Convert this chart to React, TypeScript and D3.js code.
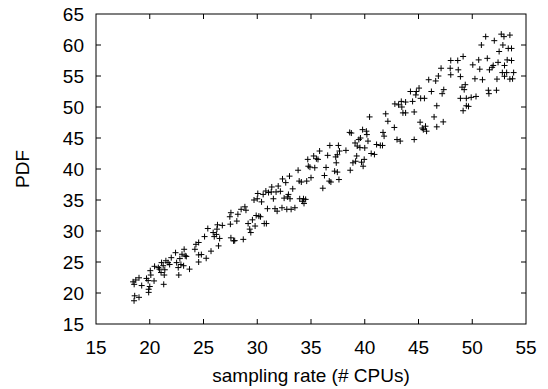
import React from "react";
import * as d3 from "d3";

const xTicks = [15, 20, 25, 30, 35, 40, 45, 50, 55];
const yTicks = [15, 20, 25, 30, 35, 40, 45, 50, 55, 60, 65];
const xTitle = "sampling rate (# CPUs)";
const yTitle = "PDF";

const xs = [
  18.54, 18.6, 19.0, 18.45, 18.7, 18.55, 19.0, 19.25, 19.7, 19.85, 19.9, 19.9, 20.0, 20.05, 20.1, 20.4, 20.45, 20.8, 20.9, 21.05,
  21.1, 21.25, 21.3, 21.35, 21.4, 21.5, 21.7, 22.0, 21.85, 22.4, 22.5, 22.65, 22.7, 22.8, 22.9, 23.0, 23.15, 23.2, 23.3, 23.4,
  23.7, 24.2, 24.3, 24.55, 24.55, 24.55, 24.8, 25.25, 25.1, 25.4, 25.7, 25.9, 26.0, 26.2, 26.25, 26.3, 26.4, 26.5, 26.75, 27.45,
  27.55, 27.5, 27.55, 27.8, 27.9, 28.1, 28.2, 28.5, 28.7, 28.85, 28.95, 29.15, 29.3, 29.4, 29.55, 29.7, 29.8, 29.9, 30.0, 30.05,
  30.15, 30.3, 30.4, 30.55, 30.65, 30.85, 30.8, 30.95, 31.05, 31.3, 31.35, 31.5, 31.65, 31.75, 31.85, 31.95, 32.15, 32.3, 32.35, 32.5,
  32.65, 32.75, 32.8, 32.9, 33.0, 33.05, 33.15, 33.3, 33.5, 33.8, 33.9, 33.95, 34.1, 34.2, 34.3, 34.35, 34.5, 34.6, 34.7, 34.75,
  34.9, 35.0, 35.25, 35.35, 35.5, 35.65, 35.8, 36.1, 36.25, 36.4, 36.55, 36.7, 36.85, 36.75, 37.2, 37.3, 37.35, 37.45, 37.45, 37.55,
  37.65, 37.6, 38.25, 38.6, 38.65, 38.75, 38.9, 39.1, 39.15, 39.25, 39.3, 39.45, 39.55, 39.6, 39.7, 39.85, 39.8, 39.95, 40.0, 40.15,
  40.2, 40.3, 40.45, 40.6, 40.9, 41.1, 41.45, 41.65, 41.7, 41.8, 41.95, 42.15, 42.75, 42.8, 43.0, 43.15, 43.3, 43.4, 43.45, 43.55,
  43.8, 43.8, 44.25, 44.45, 44.6, 44.6, 44.75, 44.8, 45.05, 45.15, 45.2, 45.35, 45.45, 45.55, 45.65, 45.75, 45.95, 46.2, 46.45, 46.6,
  46.7, 46.7, 46.85, 47.1, 47.2, 47.3, 47.35, 47.95, 48.0, 48.0, 48.65, 48.7, 48.9, 48.9, 49.05, 49.15, 49.15, 49.25, 49.35, 49.45,
  49.45, 49.65, 49.9, 50.05, 50.25, 50.35, 50.6, 50.7, 50.85, 50.95, 51.25, 51.4, 51.5, 51.55, 51.6, 51.85, 51.95, 52.05, 52.25, 52.3,
  52.4, 52.5, 52.7, 52.8, 52.85, 52.95, 53.0, 53.0, 53.2, 53.25, 53.35, 53.5, 53.5, 53.65, 53.65, 53.75, 53.85,
];
const ys = [
  18.75, 19.55, 19.3, 21.8, 22.1, 21.4, 22.45, 21.2, 22.35, 22.0, 20.6, 20.1, 21.05, 23.6, 22.9, 21.95, 24.3, 24.1, 23.85, 23.3,
  24.9, 24.4, 21.4, 22.9, 23.75, 25.2, 24.9, 25.7, 24.6, 26.5, 24.9, 24.1, 22.9, 25.55, 24.6, 26.25, 24.4, 27.05, 26.0, 25.9,
  23.85, 27.05, 27.85, 28.15, 26.15, 25.0, 26.2, 25.6, 29.1, 30.4, 26.75, 29.75, 29.1, 29.45, 30.3, 31.0, 27.6, 28.8, 30.9, 32.3,
  32.95, 31.1, 28.9, 28.4, 28.45, 31.6, 32.7, 33.5, 28.65, 33.9, 33.35, 31.2, 30.3, 29.75, 31.8, 35.0, 30.8, 32.5, 35.2, 36.05,
  32.4, 32.3, 34.7, 35.9, 31.2, 31.2, 36.45, 33.6, 36.2, 36.3, 37.1, 35.2, 33.6, 36.3, 33.2, 37.25, 36.4, 33.75, 38.4, 35.3,
  37.8, 33.5, 35.5, 35.9, 38.85, 35.2, 33.5, 36.8, 33.75, 39.8, 38.05, 35.2, 37.9, 34.8, 35.2, 34.45, 35.1, 38.05, 41.55, 40.45,
  40.3, 38.6, 42.1, 40.2, 41.65, 41.55, 42.9, 36.9, 38.95, 40.25, 42.2, 38.05, 37.9, 43.8, 39.65, 41.95, 41.0, 39.5, 42.3, 43.8,
  42.9, 38.3, 43.0, 45.9, 39.8, 45.8, 41.0, 44.2, 41.25, 42.1, 43.7, 44.75, 43.45, 45.0, 41.1, 40.45, 46.35, 41.55, 43.4, 46.1,
  45.55, 44.5, 48.4, 42.5, 42.35, 43.95, 43.8, 43.8, 45.9, 45.3, 48.9, 47.7, 46.7, 50.5, 44.75, 50.35, 44.5, 50.9, 50.0, 49.05,
  49.05, 50.8, 52.5, 50.9, 49.2, 44.75, 51.95, 52.5, 53.05, 47.55, 51.4, 46.6, 46.35, 51.4, 46.9, 46.1, 54.4, 52.5, 48.4, 54.2,
  50.2, 46.8, 55.0, 56.25, 52.15, 47.6, 52.8, 56.25, 57.5, 55.2, 57.5, 56.0, 54.9, 51.4, 53.2, 58.15, 49.4, 52.8, 53.6, 51.4,
  50.2, 50.1, 51.55, 56.8, 54.55, 51.7, 57.6, 56.1, 60.0, 54.4, 61.35, 57.85, 52.7, 52.15, 56.0, 56.4, 56.7, 60.7, 52.7, 54.5,
  57.2, 58.95, 61.75, 55.55, 60.0, 61.35, 56.7, 54.95, 55.55, 57.6, 59.45, 61.6, 54.5, 59.45, 57.5, 54.55, 55.55,
];

const W = 548;
const H = 389;
const M = { left: 96, right: 22, top: 14, bottom: 65 };
const FONT = "'Liberation Sans', Arial, sans-serif";

export default function App() {
  const x = d3.scaleLinear().domain([15, 55]).range([M.left, W - M.right]);
  const y = d3.scaleLinear().domain([15, 65]).range([H - M.bottom, M.top]);
  const tick = 5;
  const s = 3;
  const pts = xs.map((v, i) => [x(v), y(ys[i])]);
  const path = pts
    .map(([px, py]) => `M${px - s},${py}h${2 * s}M${px},${py - s}v${2 * s}`)
    .join("");
  return (
    <svg
      width={W}
      height={H}
      style={{ position: "absolute", left: 0, top: 0, background: "#fff" }}
      fontFamily={FONT}
    >
      <rect x={0} y={0} width={W} height={H} fill="#fff" />
      {xTicks.map((t) => (
        <g key={"x" + t}>
          {t !== 15 && t !== 55 && (
            <>
              <line x1={x(t)} x2={x(t)} y1={y(15)} y2={y(15) - tick} stroke="#000" />
              <line x1={x(t)} x2={x(t)} y1={y(65)} y2={y(65) + tick} stroke="#000" />
            </>
          )}
          <text x={x(t)} y={354} textAnchor="middle" fontSize={19} fill="#000">
            {t}
          </text>
        </g>
      ))}
      {yTicks.map((t) => (
        <g key={"y" + t}>
          {t !== 15 && t !== 65 && (
            <>
              <line x1={x(15)} x2={x(15) + tick} y1={y(t)} y2={y(t)} stroke="#000" />
              <line x1={x(55)} x2={x(55) - tick} y1={y(t)} y2={y(t)} stroke="#000" />
            </>
          )}
          <text x={84} y={y(t)} dy="0.35em" textAnchor="end" fontSize={19} fill="#000">
            {t}
          </text>
        </g>
      ))}
      <rect
        x={x(15)}
        y={y(65)}
        width={x(55) - x(15)}
        height={y(15) - y(65)}
        fill="none"
        stroke="#000"
        strokeWidth={1}
      />
      <path d={path} stroke="#000" strokeWidth={1} fill="none" />
      <text x={(x(15) + x(55)) / 2} y={382} textAnchor="middle" fontSize={19} fill="#000">
        {xTitle}
      </text>
      <text
        transform={`translate(29,${(y(15) + y(65)) / 2}) rotate(-90)`}
        textAnchor="middle"
        fontSize={19}
        fill="#000"
      >
        {yTitle}
      </text>
    </svg>
  );
}
